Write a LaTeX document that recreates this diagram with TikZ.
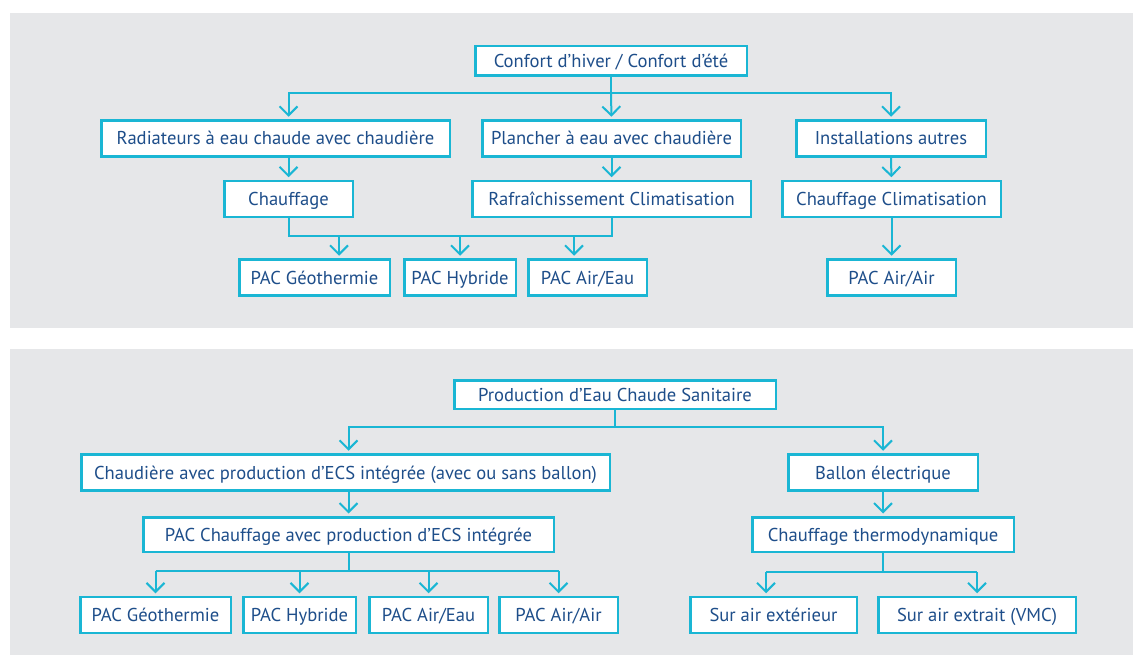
\documentclass[tikz,border=0pt]{standalone}
\usepackage{fontspec}
\setmainfont{PT Sans}
\usepackage{xcolor}
\usepackage{tikz}
\usetikzlibrary{arrows.meta, calc}
\definecolor{panelgray}{RGB}{230,231,233}
\definecolor{lineblue}{RGB}{26,182,212}
\definecolor{textblue}{RGB}{30,78,138}
\tikzstyle{box} = [rectangle, draw=lineblue, line width=2.5pt, fill=white, text=textblue, inner sep=0pt, minimum height=36pt, text height=13pt, text depth=0pt, font=\fontsize{18.6}{21}\selectfont, text centered]
\tikzstyle{link} = [draw=lineblue, line width=2pt]
\tikzstyle{arrow} = [link, -{Straight Barb[length=9pt, width=18pt]}, shorten >=2.5pt]

\begin{document}
\begin{tikzpicture}[x=1pt, y=-1pt]
		\useasboundingbox (0,0) rectangle (1133,655);
		
		% Panels
		\fill[panelgray] (10,13) rectangle (1133,328);
		\fill[panelgray] (10,349) rectangle (1133,655);
		
		% Nodes for confort
		\node (confort) [box, minimum width=271.5pt, minimum height=29.5pt] at (611,61) {Confort d’hiver / Confort d’été};
		\node (radiateurs) [box, minimum width=348.5pt] at (275.5,138.5) {Radiateurs à eau chaude avec chaudière};
		\node (plancher) [box, minimum width=258.5pt] at (611.5,138.5) {Plancher à eau avec chaudière};
		\node (autres) [box, minimum width=189.5pt] at (891,138.5) {Installations autres};
		\node (chauffage) [box, minimum width=128.5pt] at (288.5,199) {Chauffage};
		\node (rafraich) [box, minimum width=278.5pt] at (611.5,199) {Rafraîchissement Climatisation};
		\node (chaufclim) [box, minimum width=218.5pt] at (891.5,199) {Chauffage Climatisation};
		\node (geo) [box, minimum width=150.5pt] at (314.5,277.5) {PAC Géothermie};
		\node (hybride) [box, minimum width=111.5pt] at (460,277.5) {PAC Hybride};
		\node (aireau) [box, minimum width=118.5pt] at (587.5,277.5) {PAC Air/Eau};
		\node (airair) [box, minimum width=128.5pt] at (891.5,277.5) {PAC Air/Air};
		
		% Arrows for confort
		\coordinate (hub1) at (611,93);
		\draw [link] (confort.south) -- (hub1);
		\draw [arrow] (hub1) -| (chauffage.north |- radiateurs.north);
		\draw [arrow] (hub1) -- (plancher.north);
		\draw [arrow] (hub1) -| (autres.north);
		\draw [arrow] (chauffage.north |- radiateurs.south) -- (chauffage.north);
		\draw [arrow] (plancher.south) -- (rafraich.north);
		\draw [arrow] (autres.south) -- (chaufclim.north);
		\draw [arrow] (chaufclim.south) -- (airair.north);
		\draw [link] (chauffage.south) -- ++(0,18) coordinate (bar1) -| (rafraich.south);
		\coordinate (geoin) at ($(geo.north)+(24.5,0)$);
		\coordinate (aireauin) at ($(aireau.north)+(-13.5,0)$);
		\draw [arrow] (geoin |- bar1) -- (geoin);
		\draw [arrow] (hybride.north |- bar1) -- (hybride.north);
		\draw [arrow] (aireauin |- bar1) -- (aireauin);
		
		% Nodes for eau chaude
		\node (ecs) [box, minimum width=321.5pt, minimum height=28.5pt] at (615,394.5) {Production d’Eau Chaude Sanitaire};
		\node (chaudiere) [box, minimum width=528.5pt] at (345.5,472.5) {Chaudière avec production d’ECS intégrée (avec ou sans ballon)};
		\node (pacchauf) [box, minimum width=410.5pt, minimum height=34.5pt] at (348.5,534.5) {PAC Chauffage avec production d’ECS intégrée};
		\node (geob) [box, minimum width=150.5pt] at (155.5,615) {PAC Géothermie};
		\node (hybrideb) [box, minimum width=112.5pt] at (299.5,615) {PAC Hybride};
		\node (aireaub) [box, minimum width=118.5pt] at (428.5,615) {PAC Air/Eau};
		\node (airairb) [box, minimum width=118.5pt] at (558.5,615) {PAC Air/Air};
		\node (ballon) [box, minimum width=189.5pt] at (883,472.5) {Ballon électrique};
		\node (thermo) [box, minimum width=261.5pt, minimum height=34.5pt] at (883,534.5) {Chauffage thermodynamique};
		\node (exterieur) [box, minimum width=166.5pt] at (773.5,615) {Sur air extérieur};
		\node (extrait) [box, minimum width=197.5pt] at (977,615) {Sur air extrait (VMC)};
		
		% Arrows for eau chaude
		\coordinate (hub2) at (615,427);
		\draw [link] (ecs.south) -- (hub2);
		\draw [arrow] (hub2) -| (pacchauf.north |- chaudiere.north);
		\draw [arrow] (hub2) -| (ballon.north);
		\draw [arrow] (pacchauf.north |- chaudiere.south) -- (pacchauf.north);
		\draw [arrow] (ballon.south) -- (thermo.north);
		\draw [link] (pacchauf.south) -- ++(0,18) coordinate (bar2);
		\draw [link] (geob.north |- bar2) -- (airairb.north |- bar2);
		\foreach \n in {geob, hybrideb, aireaub, airairb}
			\draw [arrow] (\n.north |- bar2) -- (\n.north);
		\coordinate (extin) at ($(exterieur.north)+(-7.5,0)$);
		\draw [link] (thermo.south) -- ++(0,19) coordinate (bar3);
		\draw [link] (extin |- bar3) -- (extrait.north |- bar3);
		\draw [arrow] (extin |- bar3) -- (extin);
		\draw [arrow] (extrait.north |- bar3) -- (extrait.north);
		
	\end{tikzpicture}
\end{document}
